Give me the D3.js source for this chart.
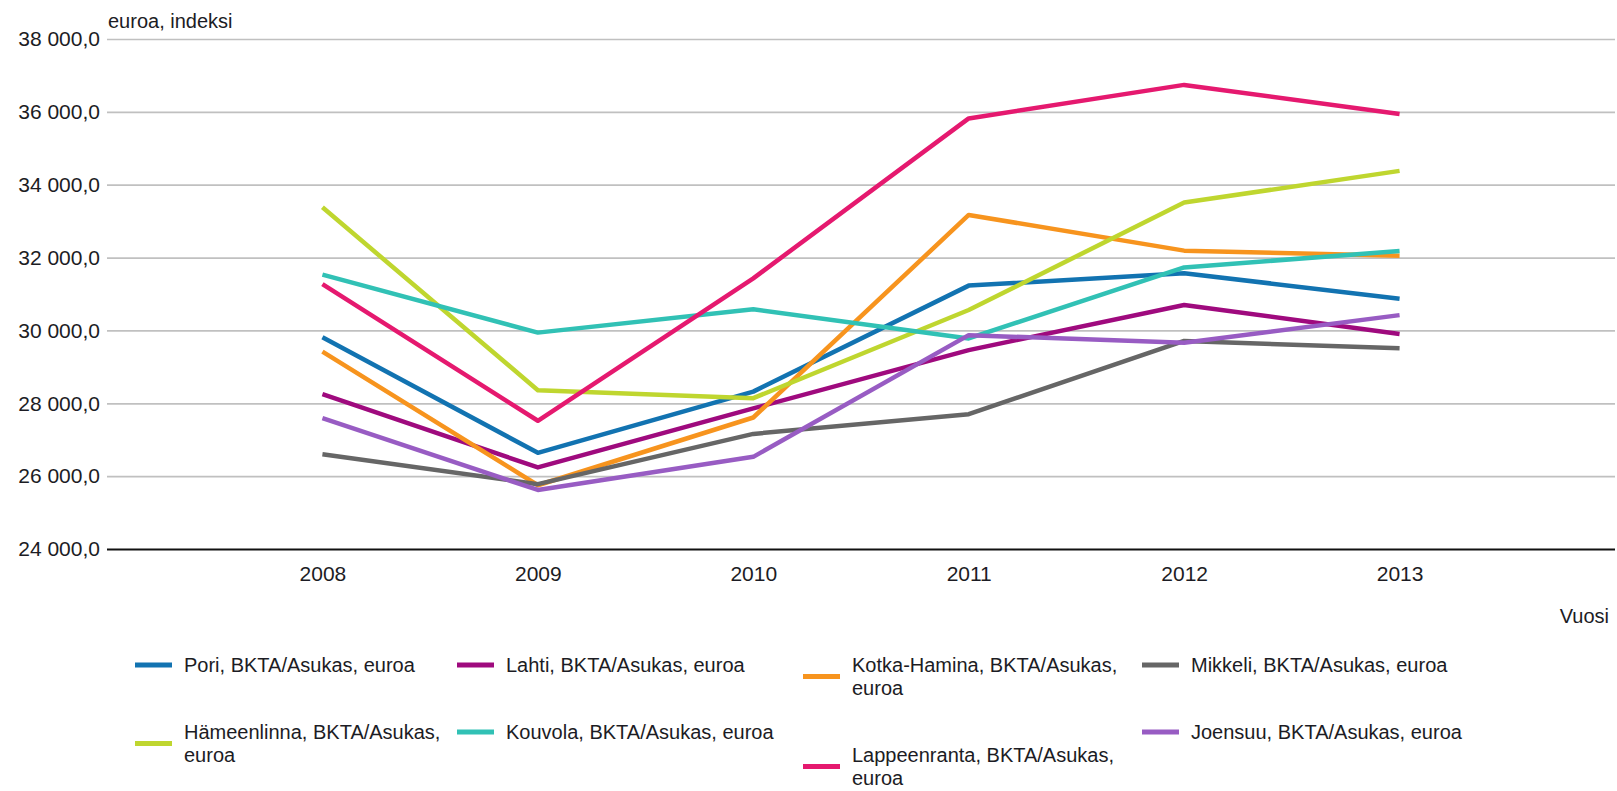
<!DOCTYPE html>
<html>
<head>
<meta charset="utf-8">
<script src="https://cdn.jsdelivr.net/npm/d3@7"></script>
<style>
  html, body { margin: 0; padding: 0; background: #fff; }
  svg { display: block; font-family: "Liberation Sans", Arial, sans-serif; }
</style>
</head>
<body>
<div id="viz"></div>
<script>
// Years on the x axis
const YEARS = ["2008", "2009", "2010", "2011", "2012", "2013"];

// y axis ticks
const Y_TICKS = [24000, 26000, 28000, 30000, 32000, 34000, 36000, 38000];

// series names (legend order)
const SERIES_NAMES = [
  "Pori, BKTA/Asukas, euroa",
  "Lahti, BKTA/Asukas, euroa",
  "Kotka-Hamina, BKTA/Asukas, euroa",
  "Mikkeli, BKTA/Asukas, euroa",
  "Hämeenlinna, BKTA/Asukas, euroa",
  "Kouvola, BKTA/Asukas, euroa",
  "Lappeenranta, BKTA/Asukas, euroa",
  "Joensuu, BKTA/Asukas, euroa"
];

// values per city, 2008..2013
const PORI = [29810, 26640, 28320, 31230, 31570, 30870];
const LAHTI = [28250, 26240, 27860, 29460, 30700, 29900];
const KOTKA_HAMINA = [29420, 25750, 27610, 33170, 32190, 32050];
const MIKKELI = [26600, 25780, 27160, 27700, 29710, 29510];
const HAMEENLINNA = [33380, 28360, 28140, 30560, 33510, 34380];
const KOUVOLA = [31530, 29940, 30580, 29780, 31730, 32180];
const LAPPEENRANTA = [31270, 27520, 31430, 35820, 36740, 35940];
const JOENSUU = [27590, 25620, 26530, 29870, 29660, 30420];

const SERIES_VALUES = [PORI, LAHTI, KOTKA_HAMINA, MIKKELI, HAMEENLINNA, KOUVOLA, LAPPEENRANTA, JOENSUU];

const COLORS = ["#1273b1", "#9f0a7e", "#f7941e", "#666666", "#bfd62f", "#31c1b5", "#e5196f", "#985cc3"];

// layout
const W = 1617, H = 791;
const PLOT = { left: 107, right: 1615, top: 39, bottom: 549 };
const TEXT_COLOR = "#1c1c24";
// legend slot per series: column x of the swatch and y of the first text line
const LEGEND_COLS = [135, 457, 803, 1142];
const LEGEND_SLOTS = [
  { col: 0, y: 665 }, { col: 1, y: 665 }, { col: 2, y: 665 }, { col: 3, y: 665 },
  { col: 0, y: 732 }, { col: 1, y: 732 }, { col: 2, y: 755 }, { col: 3, y: 732 }
];
const SWATCH_W = 37;
const TEXT_GAP = 12;
const LINE_H = 23;

const fiLocale = d3.formatLocale({ decimal: ",", thousands: "\u00a0", grouping: [3], currency: ["", " €"] });
const fmt = fiLocale.format(",.1f");

const svg = d3.select("#viz").append("svg")
  .attr("width", W).attr("height", H);

svg.append("rect").attr("width", W).attr("height", H).attr("fill", "#fff");

const x = d3.scalePoint().domain(YEARS).range([PLOT.left, PLOT.right]).padding(1);
const y = d3.scaleLinear().domain([24000, 38000]).range([PLOT.bottom, PLOT.top]);

// gridlines + y tick labels
const yAxis = svg.append("g")
  .attr("transform", `translate(${PLOT.left},0)`)
  .call(d3.axisLeft(y).tickValues(Y_TICKS).tickFormat(fmt)
    .tickSize(-(PLOT.right - PLOT.left)).tickPadding(7));
yAxis.select(".domain").remove();
yAxis.selectAll(".tick line")
  .attr("stroke", d => d === 24000 ? "#111" : "#c0c0c0")
  .attr("stroke-width", d => d === 24000 ? 2 : 1.7);
yAxis.selectAll(".tick text")
  .attr("fill", TEXT_COLOR)
  .attr("font-size", 21)
  .attr("font-family", "Liberation Sans, Arial, sans-serif");

// x axis labels
const xAxis = svg.append("g")
  .attr("transform", `translate(0,${PLOT.bottom})`)
  .call(d3.axisBottom(x).tickSize(0).tickPadding(17));
xAxis.select(".domain").remove();
xAxis.selectAll(".tick text")
  .attr("fill", TEXT_COLOR)
  .attr("font-size", 21)
  .attr("font-family", "Liberation Sans, Arial, sans-serif");

// axis titles
svg.append("text")
  .attr("x", 108).attr("y", 28)
  .attr("fill", TEXT_COLOR).attr("font-size", 20)
  .text("euroa, indeksi");

svg.append("text")
  .attr("x", 1609).attr("y", 623)
  .attr("text-anchor", "end")
  .attr("fill", TEXT_COLOR).attr("font-size", 20)
  .text("Vuosi");

// lines
const line = d3.line()
  .x((d, i) => x(YEARS[i]))
  .y(d => y(d));

svg.append("g").selectAll("path")
  .data(SERIES_VALUES)
  .join("path")
  .attr("d", d => line(d))
  .attr("fill", "none")
  .attr("stroke", (d, i) => COLORS[i])
  .attr("stroke-width", 4.5)
  .attr("stroke-linejoin", "round")
  .attr("stroke-linecap", "butt");

// legend
const legend = svg.append("g").attr("font-size", 20).attr("fill", TEXT_COLOR);

SERIES_NAMES.forEach((name, i) => {
  const slot = LEGEND_SLOTS[i];
  const sx = LEGEND_COLS[slot.col];
  const tx = sx + SWATCH_W + TEXT_GAP;
  const nextCol = LEGEND_COLS[slot.col + 1] || W;
  const maxW = nextCol - tx - 12;

  const g = legend.append("g");
  const t = g.append("text").attr("x", tx).attr("y", slot.y).attr("dy", "0.35em");

  // simple word wrap
  const words = name.split(" ");
  let lines = [];
  let current = [];
  const probe = g.append("text").attr("visibility", "hidden");
  words.forEach(w => {
    const trial = current.concat(w).join(" ");
    probe.text(trial);
    if (current.length && probe.node().getComputedTextLength() > maxW) {
      lines.push(current.join(" "));
      current = [w];
    } else {
      current.push(w);
    }
  });
  lines.push(current.join(" "));
  probe.remove();

  lines.forEach((ln, k) => {
    t.append("tspan").attr("x", tx).attr("y", slot.y + k * LINE_H).attr("dy", "0.35em").text(ln);
  });

  const midY = slot.y + (lines.length - 1) * LINE_H / 2;
  g.append("rect")
    .attr("x", sx).attr("y", midY - 2.5)
    .attr("width", SWATCH_W).attr("height", 5)
    .attr("fill", COLORS[i]);
});
</script>
</body>
</html>
